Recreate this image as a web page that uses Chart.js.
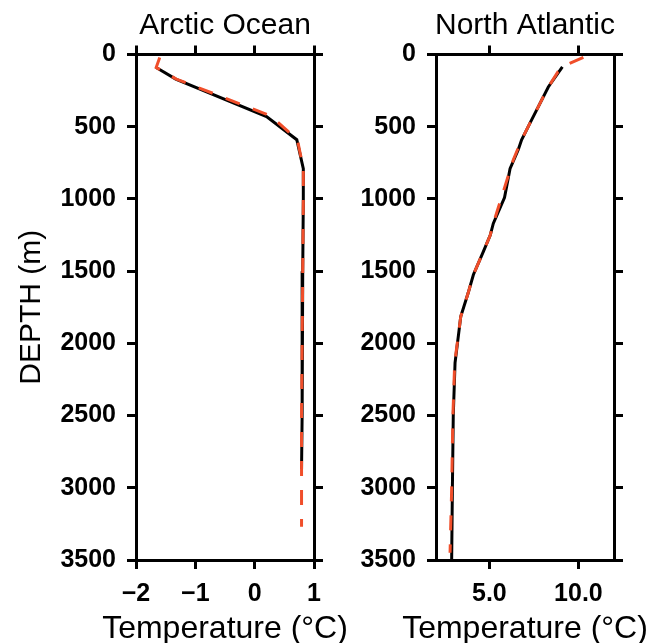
<!DOCTYPE html>
<html>
<head>
<meta charset="utf-8">
<script src="https://cdn.jsdelivr.net/npm/chart.js@4/dist/chart.umd.min.js"></script>
<style>
  body { margin: 0; background: #fff; }
  #wrap { position: relative; width: 662px; height: 643px; }
  canvas { position: absolute; left: 0; top: 0; }
</style>
</head>
<body>
<div id="wrap">
  <canvas id="arctic" width="662" height="643"></canvas>
  <canvas id="atlantic" width="662" height="643"></canvas>
</div>
<script>
// depth profiles, depth in m, temperature in degC
var depthTicks = [0, 500, 1000, 1500, 2000, 2500, 3000, 3500];

var arcticObsDepth = [90, 170, 430, 590, 790, 1000, 1500, 2000, 2500, 2870];
var arcticObsTemp  = [-1.66, -1.33, 0.20, 0.71, 0.82, 0.82, 0.81, 0.80, 0.80, 0.79];
var arcticModDepth = [20, 90, 170, 425, 590, 790, 1000, 1500, 2000, 2500, 3000, 3270];
var arcticModTemp  = [-1.60, -1.66, -1.32, 0.27, 0.72, 0.82, 0.82, 0.81, 0.80, 0.79, 0.79, 0.79];
var arcticTicks = [-2, -1, 0, 1];

var atlObsDepth = [85, 225, 475, 590, 660, 790, 990, 1170, 1250, 1365, 1525, 1650, 1815, 2135, 2500, 3010, 3500];
var atlObsTemp  = [9.10, 8.31, 7.28, 6.81, 6.62, 6.16, 5.85, 5.22, 5.05, 4.66, 4.10, 3.81, 3.39, 3.07, 2.97, 2.92, 2.88];
var atlModDepth = [20, 65, 120, 225, 475, 590, 730, 1170, 1250, 1365, 1525, 1650, 1815, 2135, 2500, 3010, 3450];
var atlModTemp  = [10.28, 9.45, 8.85, 8.31, 7.28, 6.81, 6.34, 5.22, 5.05, 4.66, 4.10, 3.81, 3.39, 3.05, 2.95, 2.88, 2.79];
var atlTicks = [5, 10];

var xTitle = 'Temperature (°C)';

var RED = '#f04e2a';
var FONT = "'Liberation Sans', Arial, sans-serif";

function pts(temp, depth) {
    return temp.map(function (t, i) { return { x: t, y: depth[i] }; });
}

function fixTicks(values) {
    return function (scale) {
        scale.ticks = values.map(function (v) { return { value: v }; });
    };
}

function box(size) {
    return function (scale) {
        if (scale.isHorizontal()) scale.height = size;
        else scale.width = size;
    };
}

// panel title above and axis title below, centred on the plot area
// (drawn here so the text is not squeezed to the plot width)
var panelText = {
    id: 'panelText',
    afterDraw: function (chart, args, o) {
        var c = chart.ctx, a = chart.chartArea, cx = (a.left + a.right) / 2;
        c.save();
        c.fillStyle = '#000';
        c.textAlign = 'center';
        c.textBaseline = 'alphabetic';
        c.font = '30px ' + FONT;
        c.fillText(o.top, cx, 34);
        c.font = '32px ' + FONT;
        c.fillText(o.bottom, cx, 638);
        c.restore();
    }
};

function axisBase(extra) {
    var o = {
        type: 'linear',
        border: { display: true, color: '#000', width: 3 },
        grid: { drawOnChartArea: false, drawTicks: true, tickLength: 9, color: '#000', lineWidth: 3 },
        ticks: { display: false }
    };
    for (var k in extra) o[k] = extra[k];
    return o;
}

function makePanel(id, opt) {
    var ctx = document.getElementById(id).getContext('2d');
    return new Chart(ctx, {
        type: 'scatter',
        data: {
            datasets: [{
                label: 'model',
                data: pts(opt.modTemp, opt.modDepth),
                showLine: true,
                borderColor: RED,
                borderWidth: 3,
                borderDash: [15, 14],
                pointRadius: 0,
                fill: false
            }, {
                label: 'obs',
                data: pts(opt.obsTemp, opt.obsDepth),
                showLine: true,
                borderColor: '#000',
                borderWidth: 3,
                pointRadius: 0,
                fill: false
            }]
        },
        plugins: [panelText],
        options: {
            responsive: false,
            animation: false,
            layout: { padding: 0 },
            plugins: {
                legend: { display: false },
                title: { display: false },
                tooltip: { enabled: false },
                panelText: { top: opt.title, bottom: xTitle }
            },
            scales: {
                x: axisBase({
                    position: 'bottom',
                    min: opt.xmin, max: opt.xmax,
                    afterBuildTicks: fixTicks(opt.xticks),
                    afterFit: box(83),
                    ticks: {
                        display: true, color: '#000', padding: 10, maxRotation: 0,
                        font: { family: FONT, size: 25, weight: 'bold' },
                        callback: opt.xfmt
                    }
                }),
                x2: axisBase({
                    position: 'top',
                    min: opt.xmin, max: opt.xmax,
                    afterBuildTicks: fixTicks(opt.xticks),
                    afterFit: box(54.5)
                }),
                y: axisBase({
                    position: 'left',
                    reverse: true,
                    min: 0, max: 3500,
                    afterBuildTicks: fixTicks(depthTicks),
                    afterFit: box(opt.left),
                    ticks: {
                        display: true, color: '#000', padding: 11,
                        font: { family: FONT, size: 25, weight: 'bold' },
                        callback: function (v) { return String(v); }
                    },
                    title: {
                        display: opt.ytitle, text: 'DEPTH (m)', color: '#000',
                        font: { family: FONT, size: 30 }, padding: { top: 14, bottom: 0 }
                    }
                }),
                y2: axisBase({
                    position: 'right',
                    reverse: true,
                    min: 0, max: 3500,
                    afterBuildTicks: fixTicks(depthTicks),
                    afterFit: box(662 - opt.right)
                })
            }
        }
    });
}

makePanel('arctic', {
    title: 'Arctic Ocean',
    obsTemp: arcticObsTemp, obsDepth: arcticObsDepth,
    modTemp: arcticModTemp, modDepth: arcticModDepth,
    xmin: -2, xmax: 1, xticks: arcticTicks,
    xfmt: function (v) { return v < 0 ? '\u2212' + Math.abs(v) : String(v); },
    left: 136, right: 314, ytitle: true
});

makePanel('atlantic', {
    title: 'North Atlantic',
    obsTemp: atlObsTemp, obsDepth: atlObsDepth,
    modTemp: atlModTemp, modDepth: atlModDepth,
    xmin: 2, xmax: 12, xticks: atlTicks,
    xfmt: function (v) { return v.toFixed(1); },
    left: 436, right: 614, ytitle: false
});
</script>
</body>
</html>
